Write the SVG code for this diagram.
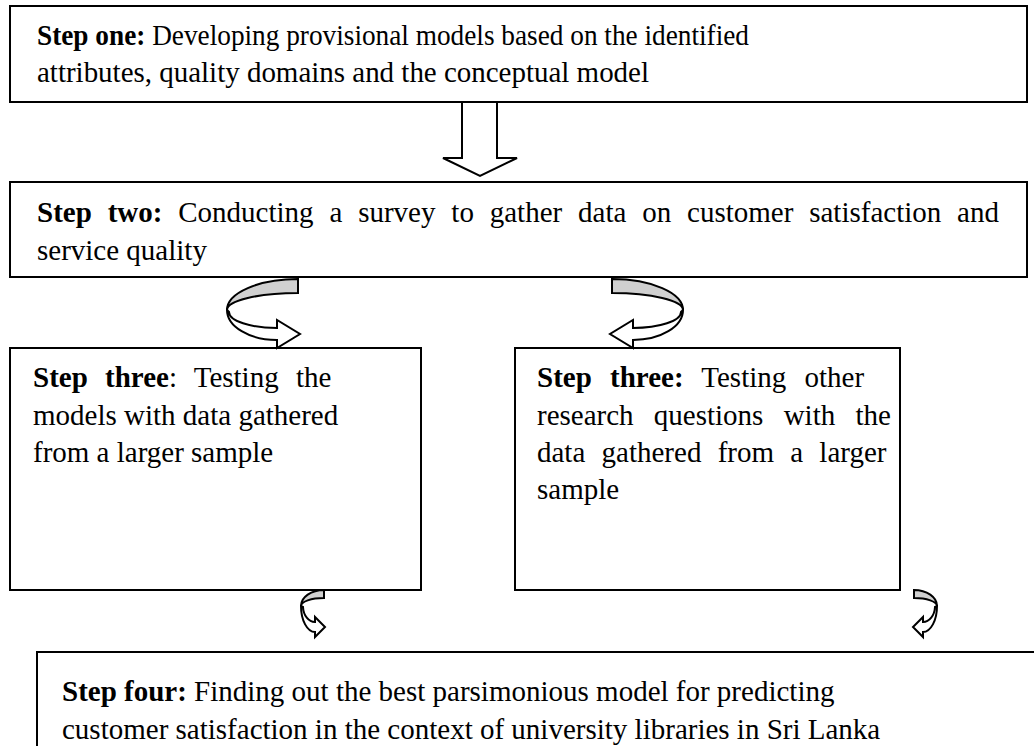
<svg xmlns="http://www.w3.org/2000/svg" width="1034" height="746" viewBox="0 0 1034 746">
<style>
.box{fill:#fff;stroke:#000;stroke-width:2}
.t{font-family:"Liberation Serif","Times New Roman",serif;font-size:29px;fill:#000}
.b{font-weight:bold}
.ar{fill:#fff;stroke:#000;stroke-width:2;stroke-linejoin:miter}
.gr{fill:#d0d0d0;stroke:#000;stroke-width:2}
</style>
<defs>
<g id="curlBig">
<path class="gr" d="M298,279 A71,31 0 0 0 227,310 A71,17 0 0 1 298,293 Z"/>
<path class="ar" d="M227,310 A50,30 0 0 0 277,340 L277,348 L300,334 L277,320 L277,328 A48,16 0 0 1 229,312 Z"/>
</g>
<g id="curlSmall">
<path class="gr" d="M324,590 A23,16 0 0 0 301,606 A23,8 0 0 1 324,598 Z"/>
<path class="ar" d="M301,606 A14,26 0 0 0 315,632 L315,637 L325,627 L315,617 L315,622 A12,16 0 0 1 303,607 Z"/>
</g>
</defs>
<rect width="1034" height="746" fill="#fff"/>
<g id="step1">
<rect class="box" x="10" y="6" width="1017" height="96"/>
<text class="t" x="37" y="45" textLength="712" lengthAdjust="spacingAndGlyphs"><tspan class="b">Step one:</tspan> Developing provisional models based on the identified</text>
<text class="t" x="37" y="82" textLength="612" lengthAdjust="spacingAndGlyphs">attributes, quality domains and the conceptual model</text>
</g>
<g id="step2">
<rect class="box" x="10" y="182" width="1017" height="95"/>
<text class="t" x="37" y="222" word-spacing="8.6"><tspan class="b">Step two:</tspan> Conducting a survey to gather data on customer satisfaction and</text>
<text class="t" x="37" y="260">service quality</text>
</g>
<g id="step3a">
<rect class="box" x="10" y="348" width="411" height="242"/>
<text class="t" x="33" y="387" word-spacing="10"><tspan class="b">Step three</tspan>: Testing the</text>
<text class="t" x="33" y="425">models with data gathered</text>
<text class="t" x="33" y="462">from a larger sample</text>
</g>
<g id="step3b">
<rect class="box" x="515" y="348" width="385" height="242"/>
<text class="t" x="537" y="387" word-spacing="11"><tspan class="b">Step three:</tspan> Testing other</text>
<text class="t" x="537" y="425" word-spacing="13">research questions with the</text>
<text class="t" x="537" y="462" word-spacing="9">data gathered from a larger</text>
<text class="t" x="537" y="499">sample</text>
</g>
<g id="step4">
<rect class="box" x="37" y="652" width="1010" height="110"/>
<text class="t" x="62" y="701"><tspan class="b">Step four:</tspan> Finding out the best parsimonious model for predicting</text>
<text class="t" x="62" y="739">customer satisfaction in the context of university libraries in Sri Lanka</text>
</g>
<g id="connectors">
<path class="ar" d="M462,103 L462,158 L443,158 L480,176 L517,158 L497,158 L497,103"/>
<use href="#curlBig"/>
<use href="#curlBig" transform="translate(910,0) scale(-1,1)"/>
<use href="#curlSmall"/>
<use href="#curlSmall" transform="translate(1238,0) scale(-1,1)"/>
</g>
</svg>
